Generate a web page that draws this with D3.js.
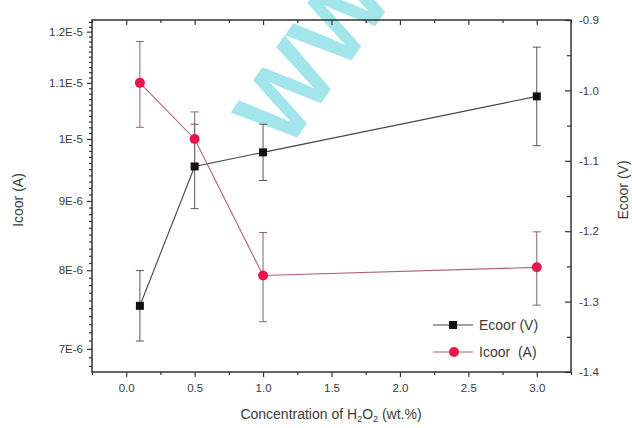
<!DOCTYPE html>
<html>
<head>
<meta charset="utf-8">
<script src="https://cdn.jsdelivr.net/npm/d3@7"></script>
<style>
  html, body { margin: 0; padding: 0; background: #fff; }
  svg { display: block; }
  text { font-family: "Liberation Sans", Arial, sans-serif; }
</style>
</head>
<body>
<svg id="chart" width="632" height="428"></svg>
<script>
// H2O2 concentration (wt.%)
const concentration = [0.1, 0.5, 1.0, 3.0];
// Corrosion potential Ecoor (V) and its error
const ecoor = [-1.306, -1.108, -1.088, -1.0085];
const ecoorErr = [0.05, 0.06, 0.04, 0.07];
// Corrosion current Icoor (A) and its error
const icoor = [1.10e-5, 1.0e-5, 7.93e-6, 8.04e-6];
const icoorErr = [0.8e-6, 0.47e-6, 0.6e-6, 0.5e-6];

// Axis ticks
const xTicks = [0.0, 0.5, 1.0, 1.5, 2.0, 2.5, 3.0];
const xTickLabels = ["0.0", "0.5", "1.0", "1.5", "2.0", "2.5", "3.0"];
const leftTicks = [7e-6, 8e-6, 9e-6, 1e-5, 1.1e-5, 1.2e-5];
const leftTickLabels = ["7E-6", "8E-6", "9E-6", "1E-5", "1.1E-5", "1.2E-5"];
const rightTicks = [-1.4, -1.3, -1.2, -1.1, -1.0, -0.9];
const rightTickLabels = ["-1.4", "-1.3", "-1.2", "-1.1", "-1.0", "-0.9"];

const svg = d3.select("#chart");
const box = { left: 92, right: 571, top: 20, bottom: 372 };

const x = d3.scaleLinear().domain([-0.25, 3.25]).range([box.left, box.right]);
const yL = d3.scaleLog().domain([6.73e-6, 1.224e-5]).range([box.bottom, box.top]);
const yR = d3.scaleLinear().domain([-1.4, -0.9]).range([box.bottom, box.top]);

const axisColor = "#333";
const labelColor = "#3a3a3a";

// Watermark
svg.append("text")
  .attr("transform", "translate(287,152) rotate(-55)")
  .attr("font-size", 100)
  .attr("font-weight", "bold")
  .attr("fill", "#a2e5ea")
  .text("WW");

// Minor tick values
const xMinor = d3.range(-0.25, 3.26, 0.25).filter(v => Math.abs(v * 2 - Math.round(v * 2)) > 1e-6);
const leftMinor = d3.range(68, 123).filter(k => k % 10 !== 0).map(k => k * 1e-7);
const rightMinor = [-1.35, -1.25, -1.15, -1.05, -0.95];

function styleAxis(g) {
  g.select(".domain").remove();
  g.selectAll(".tick line").attr("stroke", axisColor).attr("stroke-width", 1.2);
  g.selectAll(".tick text").attr("fill", labelColor).attr("font-size", 11.5);
}

// Bottom axis: outward ticks
svg.append("g").attr("transform", `translate(0,${box.bottom})`)
  .call(d3.axisBottom(x).tickValues(xTicks).tickSize(5).tickPadding(7)
    .tickFormat((d, i) => xTickLabels[i]))
  .call(styleAxis);
svg.append("g").attr("transform", `translate(0,${box.bottom})`)
  .call(d3.axisBottom(x).tickValues(xMinor).tickSize(3).tickFormat(""))
  .call(styleAxis);

// Top axis: inward ticks, no labels
svg.append("g").attr("transform", `translate(0,${box.top})`)
  .call(d3.axisBottom(x).tickValues(xTicks).tickSize(5).tickFormat(""))
  .call(styleAxis);
svg.append("g").attr("transform", `translate(0,${box.top})`)
  .call(d3.axisBottom(x).tickValues(xMinor).tickSize(3).tickFormat(""))
  .call(styleAxis);

// Left log axis: outward ticks
svg.append("g").attr("transform", `translate(${box.left},0)`)
  .call(d3.axisLeft(yL).tickValues(leftTicks).tickSize(5).tickPadding(4)
    .tickFormat((d, i) => leftTickLabels[i]))
  .call(styleAxis);
svg.append("g").attr("transform", `translate(${box.left},0)`)
  .call(d3.axisLeft(yL).tickValues(leftMinor).tickSize(3).tickFormat(""))
  .call(styleAxis);

// Right axis: inward ticks, labels outside
const rightMajor = svg.append("g").attr("transform", `translate(${box.right},0)`)
  .call(d3.axisLeft(yR).tickValues(rightTicks).tickSize(6)
    .tickFormat((d, i) => rightTickLabels[i]))
  .call(styleAxis);
rightMajor.selectAll(".tick text").attr("x", 8).attr("text-anchor", "start");
svg.append("g").attr("transform", `translate(${box.right},0)`)
  .call(d3.axisLeft(yR).tickValues(rightMinor).tickSize(4).tickFormat(""))
  .call(styleAxis);

// Frame
svg.append("rect")
  .attr("x", box.left).attr("y", box.top)
  .attr("width", box.right - box.left).attr("height", box.bottom - box.top)
  .attr("fill", "none").attr("stroke", axisColor).attr("stroke-width", 1.5);

// Axis titles
svg.append("text")
  .attr("transform", "translate(23,200) rotate(-90)")
  .attr("text-anchor", "middle").attr("font-size", 14).attr("fill", labelColor)
  .text("Icoor (A)");
svg.append("text")
  .attr("transform", "translate(628,190) rotate(-90)")
  .attr("text-anchor", "middle").attr("font-size", 14).attr("fill", labelColor)
  .text("Ecoor (V)");
const xt = svg.append("text")
  .attr("x", 331).attr("y", 419)
  .attr("text-anchor", "middle").attr("font-size", 14).attr("fill", labelColor);
xt.append("tspan").text("Concentration of H");
xt.append("tspan").attr("font-size", 9).attr("dy", 3).text("2");
xt.append("tspan").attr("dy", -3).text("O");
xt.append("tspan").attr("font-size", 9).attr("dy", 3).text("2");
xt.append("tspan").attr("dy", -3).text(" (wt.%)");

const plot = svg.append("g");
const cap = 4;

// Ecoor series
const eColor = "#111";
const eLine = "#444";
const eErr = "#555";
const ePts = concentration.map((c, i) => ({ c, v: ecoor[i], e: ecoorErr[i] }));
plot.append("path").datum(ePts)
  .attr("fill", "none").attr("stroke", eLine).attr("stroke-width", 1.1)
  .attr("d", d3.line().x(d => x(d.c)).y(d => yR(d.v)));
const eErrG = plot.selectAll(".eerr").data(ePts).enter().append("g")
  .attr("stroke", eErr).attr("stroke-width", 1);
eErrG.append("line").attr("x1", d => x(d.c)).attr("x2", d => x(d.c))
  .attr("y1", d => yR(d.v + d.e)).attr("y2", d => yR(d.v - d.e));
eErrG.append("line").attr("x1", d => x(d.c) - cap).attr("x2", d => x(d.c) + cap)
  .attr("y1", d => yR(d.v + d.e)).attr("y2", d => yR(d.v + d.e));
eErrG.append("line").attr("x1", d => x(d.c) - cap).attr("x2", d => x(d.c) + cap)
  .attr("y1", d => yR(d.v - d.e)).attr("y2", d => yR(d.v - d.e));

// Icoor series
const iColor = "#e8164c";
const iLine = "#b06072";
const iErr = "#8a6470";
const iPts = concentration.map((c, i) => ({ c, v: icoor[i], e: icoorErr[i] }));
plot.append("path").datum(iPts)
  .attr("fill", "none").attr("stroke", iLine).attr("stroke-width", 1.1)
  .attr("d", d3.line().x(d => x(d.c)).y(d => yL(d.v)));
const iErrG = plot.selectAll(".ierr").data(iPts).enter().append("g")
  .attr("stroke", iErr).attr("stroke-width", 1);
iErrG.append("line").attr("x1", d => x(d.c)).attr("x2", d => x(d.c))
  .attr("y1", d => yL(d.v + d.e)).attr("y2", d => yL(d.v - d.e));
iErrG.append("line").attr("x1", d => x(d.c) - cap).attr("x2", d => x(d.c) + cap)
  .attr("y1", d => yL(d.v + d.e)).attr("y2", d => yL(d.v + d.e));
iErrG.append("line").attr("x1", d => x(d.c) - cap).attr("x2", d => x(d.c) + cap)
  .attr("y1", d => yL(d.v - d.e)).attr("y2", d => yL(d.v - d.e));

// Markers
plot.selectAll(".esq").data(ePts).enter().append("rect")
  .attr("x", d => x(d.c) - 4).attr("y", d => yR(d.v) - 4)
  .attr("width", 8).attr("height", 8).attr("fill", eColor);
plot.selectAll(".icirc").data(iPts).enter().append("circle")
  .attr("cx", d => x(d.c)).attr("cy", d => yL(d.v)).attr("r", 5)
  .attr("fill", iColor);

// Legend
const legend = svg.append("g");
const legendRows = [
  { label: "Ecoor (V)", y: 325, line: eLine, marker: "square" },
  { label: "Icoor  (A)", y: 352, line: iLine, marker: "circle" }
];
legendRows.forEach(r => {
  legend.append("line").attr("x1", 433).attr("x2", 473)
    .attr("y1", r.y).attr("y2", r.y).attr("stroke", r.line).attr("stroke-width", 1.1);
  if (r.marker === "square") {
    legend.append("rect").attr("x", 449).attr("y", r.y - 4).attr("width", 8).attr("height", 8).attr("fill", eColor);
  } else {
    legend.append("circle").attr("cx", 454).attr("cy", r.y).attr("r", 5).attr("fill", iColor);
  }
  legend.append("text").attr("x", 479).attr("y", r.y + 5)
    .attr("font-size", 14).attr("fill", labelColor)
    .style("white-space", "pre").text(r.label);
});
</script>
</body>
</html>
